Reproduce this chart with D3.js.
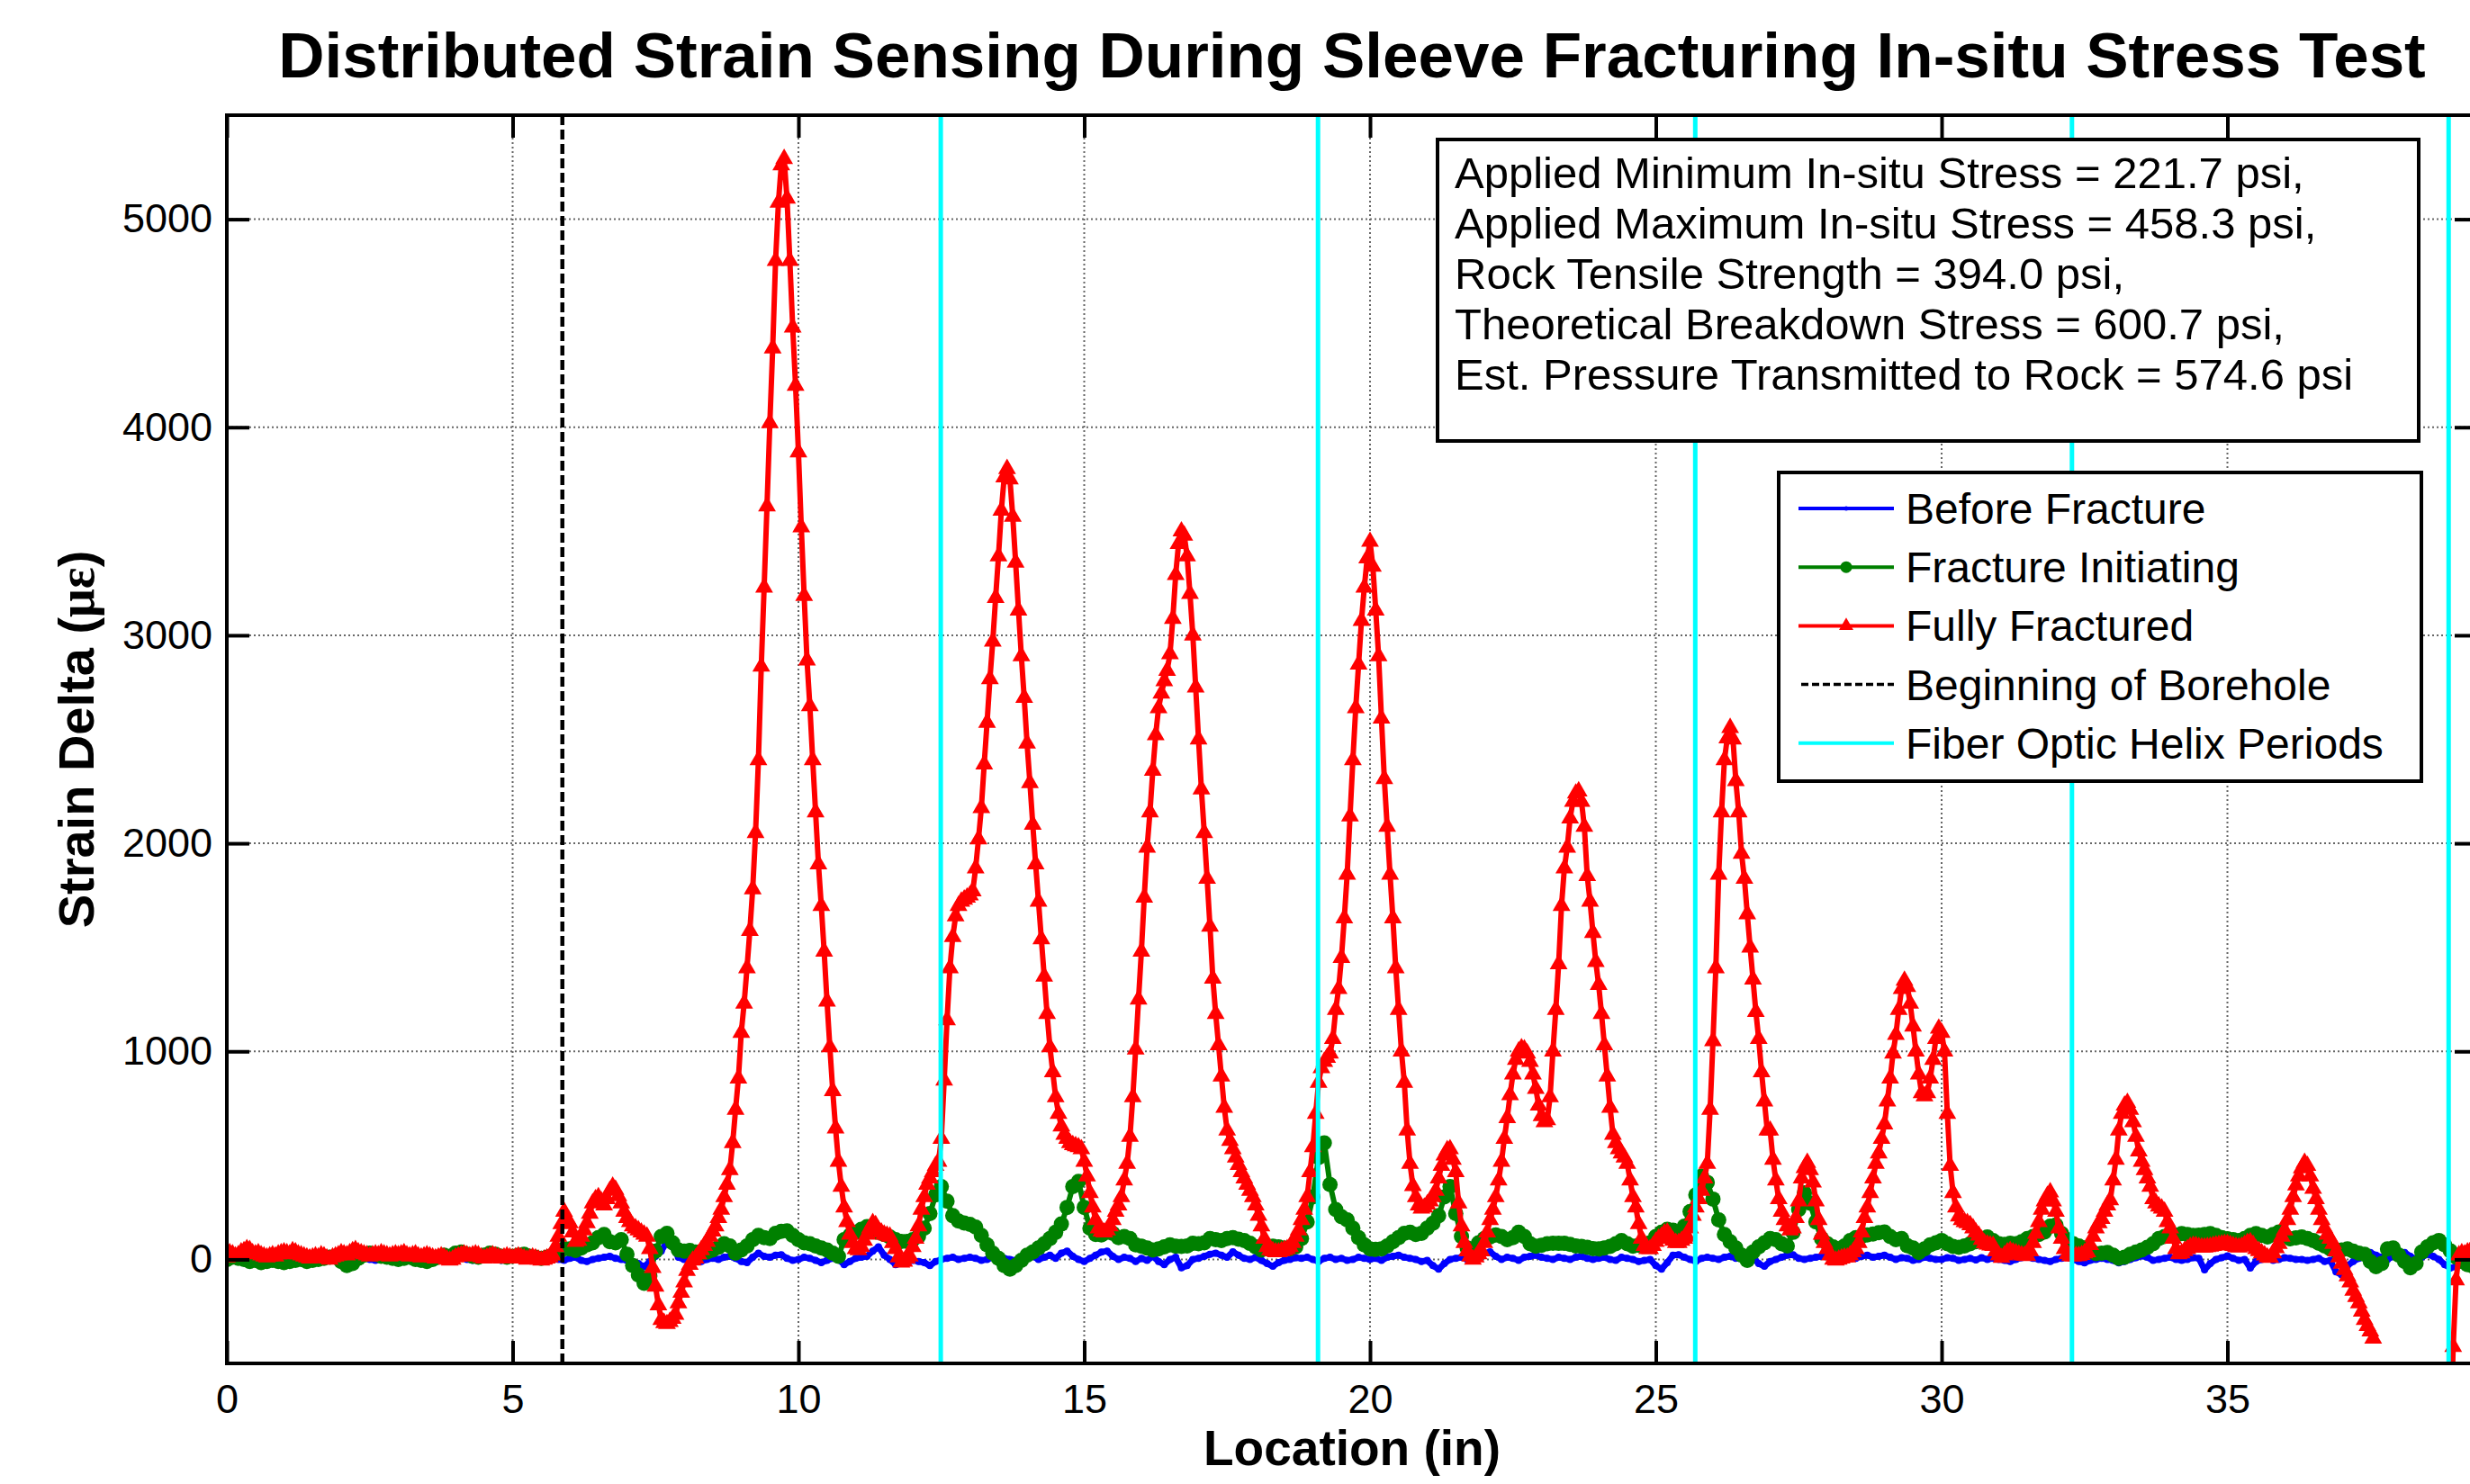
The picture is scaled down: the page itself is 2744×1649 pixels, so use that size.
<!DOCTYPE html>
<html lang="en">
<head>
<meta charset="UTF-8">
<title>Distributed Strain Sensing During Sleeve Fracturing</title>
<style>
  body { margin: 0; background: #fff; }
  svg { display: block; font-family: "Liberation Sans", Arial, Helvetica, sans-serif; }
  .grid line { stroke: #666; stroke-width: 2; stroke-dasharray: 2,3; }
  .axis path { display: none; }
  .axis line { stroke: #000; stroke-width: 4; }
  .axis text { font-size: 45px; fill: #000; }
</style>
</head>
<body>
<svg width="2744" height="1649"></svg>
<script src="https://d3js.org/d3.v7.min.js"></script>
<script>
// ---- data (strain delta, microstrain) ----
const X_STEP_FINE = 0.05;   // red trace spacing along fiber (in)
const X_STEP = 0.1;         // blue / green trace spacing (in)

// Fully Fractured, 0.00 - 9.95 in
const redA = [
  10, 30, 25, 15, 20, 35, 40, 50, 45, 30, 25, 30, 20, 15, 10, 15, 20, 15, 25, 30,
  35, 30, 25, 40, 35, 25, 20, 15, 10, 5, 10, 15, 10, 20, 15, 5, 0, 10, 15, 20,
  30, 25, 20, 30, 40, 45, 35, 30, 25, 20, 15, 20, 25, 20, 30, 25, 20, 15, 20, 25,
  20, 25, 30, 20, 15, 20, 25, 15, 10, 15, 20, 15, 10, 5, 10, 15, 10, 0, -5, 0,
  10, 15, 20, 25, 20, 15, 20, 25, 20, 10, 5, 10, 15, 20, 15, 10, 5, 10, 15, 10,
  5, 10, 15, 10, 5, 0, 5, 10, 5, 0, -5, 0, 5, 10, 20, 60, 110, 170, 230, 195,
  175, 130, 85, 90, 110, 140, 175, 220, 270, 290, 300, 280, 260, 290, 330, 350, 335, 305, 270, 230,
  200, 180, 160, 150, 140, 130, 120, 110, 50, -40, -130, -220, -290, -305, -310, -300, -285, -265, -210, -160,
  -110, -55, -25, -5, 5, 25, 45, 65, 85, 110, 135, 160, 200, 240, 300, 360, 430, 560, 720, 870,
  1090, 1230, 1400, 1580, 1780, 2050, 2400, 2850, 3230, 3620, 4020, 4380, 4800, 5080, 5260, 5290, 5100, 4800, 4480, 4200
];
// 10.00 - 19.95 in
const redB = [
  3880, 3520, 3190, 2880, 2660, 2400, 2150, 1900, 1700, 1480, 1240, 1020, 810, 630, 470, 350, 250, 180, 120, 80,
  50, 45, 60, 90, 120, 150, 175, 165, 140, 130, 120, 115, 110, 80, 50, 10, -15, -10, 5, 15,
  60, 100, 160, 240, 300, 360, 390, 420, 450, 470, 580, 860, 1150, 1400, 1550, 1650, 1700, 1720, 1730, 1740,
  1750, 1770, 1880, 2020, 2170, 2380, 2580, 2790, 2970, 3180, 3380, 3600, 3760, 3800, 3750, 3570, 3350, 3120, 2900, 2700,
  2480, 2290, 2090, 1900, 1720, 1540, 1360, 1180, 1020, 900, 780, 700, 640, 600, 580, 560, 550, 545, 540, 530,
  470, 400, 320, 250, 190, 150, 135, 130, 140, 160, 190, 230, 260, 300, 380, 460, 590, 780, 1010, 1250,
  1480, 1740, 1980, 2150, 2350, 2520, 2650, 2720, 2780, 2830, 2910, 3080, 3290, 3440, 3500, 3480, 3380, 3200, 3000, 2750,
  2500, 2260, 2050, 1830, 1600, 1350, 1180, 1030, 880, 730, 620, 570, 530, 490, 455, 420, 390, 360, 330, 300,
  260, 210, 160, 100, 60, 45, 40, 35, 35, 40, 45, 50, 60, 80, 110, 140, 190, 240, 300, 420,
  540, 700, 850, 920, 950, 970, 990, 1060, 1200, 1300, 1450, 1640, 1850, 2130, 2400, 2650, 2860, 3070, 3230, 3370
];
// 20.00 - 29.95 in
const redC = [
  3450, 3330, 3120, 2900, 2600, 2310, 2080, 1850, 1640, 1400, 1200, 1000, 850, 620, 460, 353, 300, 260, 245, 250,
  265, 280, 300, 330, 390, 450, 500, 525, 530, 480, 420, 270, 160, 80, 40, 15, 0, 10, 25, 40,
  80, 130, 190, 240, 300, 380, 470, 580, 680, 790, 890, 960, 1000, 1015, 1010, 990, 950, 890, 820, 740,
  690, 660, 670, 780, 1000, 1200, 1420, 1700, 1880, 1980, 2120, 2200, 2240, 2250, 2200, 2080, 1843, 1720, 1570, 1430,
  1320, 1180, 1030, 880, 730, 600, 560, 530, 510, 490, 460, 380, 300, 250, 170, 100, 65, 50, 50, 65,
  85, 100, 110, 125, 130, 110, 90, 80, 80, 90, 100, 110, 150, 210, 250, 290, 330, 390, 460, 720,
  1050, 1400, 1850, 2150, 2400, 2505, 2555, 2500, 2300, 2150, 1950, 1830, 1660, 1500, 1346, 1190, 1060, 900, 760, 620,
  620, 480, 380, 290, 230, 190, 160, 140, 150, 200, 280, 390, 440, 465, 430, 370, 280, 190, 120, 80,
  50, 20, 0, -5, 0, 5, 10, 10, 20, 35, 50, 80, 130, 200, 250, 320, 390, 460, 510, 580,
  650, 760, 870, 990, 1080, 1200, 1300, 1340, 1310, 1230, 1120, 1000, 890, 800, 785, 800, 870, 960, 1060, 1110
];
// 30.00 - 39.35 in (null = reading lost below the axis)
const redD = [
  1090, 1000, 700, 450, 320, 250, 207, 190, 180, 175, 165, 150, 130, 115, 95, 78, 72, 68, 66, 40,
  20, 8, 20, 35, 41, 35, 30, 25, 20, 18, 17, 40, 80, 124, 180, 240, 280, 306, 323, 280,
  230, 150, 100, 50, 25, 17, 15, 17, 17, 22, 30, 35, 70, 110, 150, 175, 195, 230, 260, 285,
  380, 480, 620, 700, 740, 753, 720, 660, 590, 520, 470, 430, 390, 350, 290, 270, 255, 245, 230, 180,
  150, 100, 50, 25, 30, 41, 50, 60, 66, 65, 60, 58, 58, 60, 62, 66, 68, 70, 72, 75,
  75, 70, 65, 60, 58, 62, 70, 80, 83, 70, 50, 41, 30, 20, 10, 8, 30, 55, 75, 110,
  140, 190, 240, 300, 356, 400, 439, 465, 450, 400, 340, 290, 240, 190, 150, 120, 100, 75, 40, 10,
  -20, -50, -80, -110, -150, -180, -210, -250, -290, -320, -345, -380, null, null, null, null, null, null, null, null,
  null, null, null, null, null, null, null, null, null, null, null, null, null, null, null, null, null, null, -900, -420,
  -100, 20, 30, 25, 35, 40, 30, 25
];

// Fracture Initiating, 0.0 - 39.3 in
const greenA = [
  0, 10, 5, 0, -10, -5, -15, -10, -5, -10,
  -15, -10, -5, 0, -10, -5, 0, 5, 10, 15,
  -10, -30, -20, 5, 20, 30, 25, 15, 10, 5,
  0, 5, 10, 0, -5, -10, 0, 10, 20, 15,
  30, 35, 25, 15, 10, 20, 30, 25, 15, 10,
  15, 20, 25, 15, 10, 5, 10, 20, 30, 50,
  50, 43, 55, 70, 80, 105, 120, 85, 80, 95,
  25, -30, -75, -115, -80, 40, 110, 125, 80, 45,
  40, 43, 35, 30, 35, 45, 58, 75, 65, 30,
  45, 65, 95, 115, 105, 100, 125, 135, 137, 115
];
const greenB = [
  95, 80, 75, 65, 55, 45, 30, 15, 95, 115,
  130, 145, 158, 145, 130, 120, 108, 95, 86, 86,
  95, 110, 150, 220, 310, 350, 280, 210, 185, 175,
  168, 155, 115, 70, 30, 5, -30, -47, -30, -5,
  20, 35, 55, 75, 100, 130, 170, 250, 350, 375,
  250, 150, 120, 118, 130, 125, 105, 110, 100, 70,
  63, 55, 45, 50, 60, 70, 63, 62, 65, 77,
  75, 80, 100, 95, 90, 100, 105, 97, 90, 77,
  60, 45, 55, 63, 60, 55, 50, 60, 100, 180,
  300, 490, 560, 360, 240, 205, 190, 150, 105, 70
];
const greenC = [
  50, 48, 50, 65, 85, 105, 125, 130, 120, 125,
  150, 174, 210, 300, 350, 220, 110, 55, 50, 80,
  100, 108, 118, 110, 95, 105, 130, 110, 75, 63,
  68, 75, 78, 77, 77, 72, 65, 62, 58, 52,
  50, 55, 62, 75, 90, 75, 63, 68, 75, 80,
  110, 130, 145, 140, 132, 160, 230, 310, 400, 370,
  290, 190, 120, 85, 55, 20, -5, 35, 60, 80,
  100, 95, 75, 65, 130, 240, 320, 270, 180, 100,
  75, 60, 50, 65, 90, 105, 110, 118, 122, 128,
  132, 110, 95, 100, 66, 55, 33, 50, 70, 80
];
const greenD = [
  91, 75, 62, 58, 65, 75, 85, 100, 108, 90,
  75, 72, 78, 75, 85, 100, 110, 120, 132, 160,
  165, 124, 95, 75, 65, 55, 45, 28, 30, 33,
  20, 5, 10, 25, 35, 45, 58, 75, 100, 110,
  115, 118, 124, 120, 115, 116, 120, 124, 115, 105,
  99, 95, 90, 100, 115, 124, 115, 108, 120, 132,
  115, 99, 103, 108, 100, 91, 78, 65, 50, 41,
  45, 50, 40, 30, 25, -10, -35, -20, 50, 55,
  20, -10, -40, -20, 35, 60, 80, 91, 70, 41,
  10, -10, -25, -33
];

// Before Fracture, 0.0 - 39.3 in
const blueA = [
  5, 0, -5, 10, 0, -10, 5, 0, -5, 5,
  0, -10, 5, 10, 0, -5, 0, 5, -5, 0,
  -10, -25, -10, 5, 10, 0, -5, 5, 0, -5,
  0, 5, -5, 0, 10, 0, -5, 5, 0, -5,
  5, 10, 0, -5, 0, 5, 10, 0, -5, 0,
  5, 0, -5, 5, 0, -5, 0, 5, 0, -5,
  5, 10, -5, -10, 0, 5, 10, 15, 5, 0,
  -5, -10, -20, -35, -10, 15, 40, 85, 60, 10,
  0, 5, -5, -10, 0, 5, 0, 10, 15, 5,
  -10, -15, 10, 30, 15, 10, 20, 22, 5, -5
];
const blueB = [
  0, 10, 5, -5, -15, -5, 5, 0, -25, -10,
  5, 10, 15, 40, 60, 20, 0, -25, -20, -10,
  -5, -10, -15, -30, -10, 0, 5, 10, 0, 5,
  10, 5, -5, 0, 10, -5, 5, 0, -5, 10,
  5, 15, 0, 10, 20, 5, 30, 40, 15, 0,
  -10, 5, 20, 35, 40, 15, 0, 10, 5, -10,
  5, -5, 15, -10, -25, 0, 10, -40, -30, 0,
  5, 15, 25, 30, 20, 10, 36, 20, 5, 0,
  10, -5, -20, -33, -15, -5, 0, 8, 5, 10,
  0, -10, 5, 10, 0, 5, -5, 0, 10, 5
];
const blueC = [
  0, 5, -5, 10, 15, 20, 10, 5, 0, -10,
  -5, -30, -47, -20, 0, 5, 10, 0, 5, 15,
  30, 36, 15, 0, 10, 5, -5, 10, 15, 20,
  10, 5, 0, 10, 5, 0, 10, 15, 5, 0,
  5, 10, 0, -5, 10, 5, 0, -10, -5, 0,
  -30, -47, -15, 20, 22, 10, 0, -10, 5, 10,
  5, 0, 10, 15, 5, 20, 15, 10, -20, -33,
  -10, 0, 10, 20, 22, 5, 0, 5, 10, 15,
  20, 25, 15, 30, 10, 5, 15, 20, 10, 15,
  20, 10, 0, 8, 5, -5, 0, 10, 5, 0
];
const blueD = [
  0, 8, 5, -5, 0, 5, -3, 8, 0, 5,
  0, -5, -10, 0, 8, 10, 5, 0, -5, -10,
  0, 5, 10, 0, -10, -17, -5, 0, 5, 0,
  -5, -17, -10, 0, 8, 17, 10, -5, 0, 5,
  10, 0, -5, 0, 8, 5, -50, -20, 0, 8,
  17, 5, -5, 0, -41, -10, 0, 5, -5, 0,
  8, 5, 0, 0, -5, 0, 5, -10, -5, -60,
  -75, -30, -10, 5, 20, 33, 20, 10, 0, 15,
  25, 33, 15, 0, 10, 25, 15, 0, -25, -41,
  -35, -20, -30, -25
];

const boreholeX = 5.87;
const helixX = [12.49, 19.09, 25.69, 32.28, 38.87];

const xTicks = [0, 5, 10, 15, 20, 25, 30, 35];
const yTicks = [0, 1000, 2000, 3000, 4000, 5000];
const xDomain = [0, 39.37];
const yDomain = [-500, 5500];

const infoLines = [
  "Applied Minimum In-situ Stress = 221.7 psi,",
  "Applied Maximum In-situ Stress = 458.3 psi,",
  "Rock Tensile Strength = 394.0 psi,",
  "Theoretical Breakdown Stress = 600.7 psi,",
  "Est. Pressure Transmitted to Rock = 574.6 psi"
];

// ---- layout ----
const L = 252, R = 2752, T = 128, B = 1515;
const svg = d3.select("svg");

const x = d3.scaleLinear().domain(xDomain).range([L, R]);
const y = d3.scaleLinear().domain(yDomain).range([B, T]);

const toPts = (vals, step) => vals.map((v, i) => [+(i * step).toFixed(3), v]);
const red = toPts([].concat(redA, redB, redC, redD), X_STEP_FINE);
const green = toPts([].concat(greenA, greenB, greenC, greenD), X_STEP);
const blue = toPts([].concat(blueA, blueB, blueC, blueD), X_STEP);

svg.append("defs").append("clipPath").attr("id", "plotclip")
  .append("rect").attr("x", L).attr("y", T).attr("width", R - L).attr("height", B - T);

// grid
const grid = svg.append("g").attr("class", "grid");
grid.selectAll(".gx").data(xTicks.filter(d => d > xDomain[0])).enter().append("line")
  .attr("x1", d => x(d)).attr("x2", d => x(d)).attr("y1", T).attr("y2", B);
grid.selectAll(".gy").data(yTicks).enter().append("line")
  .attr("x1", L).attr("x2", R).attr("y1", d => y(d)).attr("y2", d => y(d));

// data traces
const plot = svg.append("g").attr("clip-path", "url(#plotclip)");
const line = d3.line().defined(d => d[1] != null).x(d => x(d[0])).y(d => y(d[1]));

function trace(pts, color, width) {
  plot.append("path").datum(pts)
    .attr("fill", "none").attr("stroke", color).attr("stroke-width", width)
    .attr("stroke-linejoin", "round").attr("stroke-linecap", "round")
    .attr("d", line);
}

trace(blue, "#0000ff", 7);
plot.append("g").selectAll("circle").data(blue).enter().append("circle")
  .attr("cx", d => x(d[0])).attr("cy", d => y(d[1])).attr("r", 4).attr("fill", "#0000ff");

trace(green, "#008000", 6);
plot.append("g").selectAll("circle").data(green).enter().append("circle")
  .attr("cx", d => x(d[0])).attr("cy", d => y(d[1])).attr("r", 8.5).attr("fill", "#008000");

trace(red, "#ff0000", 6);
const tri = d3.symbol().type(d3.symbolTriangle).size(170);
plot.append("g").selectAll("path").data(red.filter(d => d[1] != null)).enter().append("path")
  .attr("d", tri).attr("fill", "#ff0000")
  .attr("transform", d => `translate(${x(d[0])},${y(d[1])})`);

// reference lines
plot.append("line")
  .attr("x1", x(boreholeX)).attr("x2", x(boreholeX)).attr("y1", T).attr("y2", B)
  .attr("stroke", "#000").attr("stroke-width", 4.5).attr("stroke-dasharray", "11,5");
plot.selectAll(".helix").data(helixX).enter().append("line")
  .attr("x1", d => x(d)).attr("x2", d => x(d)).attr("y1", T).attr("y2", B)
  .attr("stroke", "#00ffff").attr("stroke-width", 5);

// axes (ticks inside, box on)
const fmt = d3.format("d");
svg.append("g").attr("class", "axis").attr("transform", `translate(0,${B})`)
  .call(d3.axisBottom(x).tickValues(xTicks).tickFormat(fmt).tickSizeInner(-25).tickSizeOuter(0).tickPadding(23));
svg.append("g").attr("class", "axis").attr("transform", `translate(0,${T})`)
  .call(d3.axisTop(x).tickValues(xTicks).tickSizeInner(-25).tickSizeOuter(0).tickFormat(""));
svg.append("g").attr("class", "axis").attr("transform", `translate(${L},0)`)
  .call(d3.axisLeft(y).tickValues(yTicks).tickFormat(fmt).tickSizeInner(-25).tickSizeOuter(0).tickPadding(16));
svg.append("g").attr("class", "axis").attr("transform", `translate(${R},0)`)
  .call(d3.axisRight(y).tickValues(yTicks).tickSizeInner(-25).tickSizeOuter(0).tickFormat(""));
svg.selectAll(".axis text").attr("font-family", null);

svg.append("rect").attr("x", L).attr("y", T).attr("width", R - L).attr("height", B - T)
  .attr("fill", "none").attr("stroke", "#000").attr("stroke-width", 4);

// titles
svg.append("text").attr("x", (L + R) / 2).attr("y", 86).attr("text-anchor", "middle")
  .attr("font-size", 71).attr("font-weight", "bold")
  .text("Distributed Strain Sensing During Sleeve Fracturing In-situ Stress Test");
svg.append("text").attr("x", (L + R) / 2).attr("y", 1628).attr("text-anchor", "middle")
  .attr("font-size", 55).attr("font-weight", "bold").text("Location (in)");
const yl = svg.append("text").attr("transform", `translate(104,${(T + B) / 2}) rotate(-90)`)
  .attr("text-anchor", "middle").attr("font-size", 56).attr("font-weight", "bold");
yl.append("tspan").text("Strain Delta (");
yl.append("tspan").attr("font-family", "'Liberation Serif', 'DejaVu Serif', serif").text("\u03bc\u03b5");
yl.append("tspan").text(")");

// info box
svg.append("rect").attr("x", 1597).attr("y", 155).attr("width", 1090).attr("height", 335)
  .attr("fill", "#fff").attr("stroke", "#000").attr("stroke-width", 4);
svg.append("g").selectAll("text").data(infoLines).enter().append("text")
  .attr("x", 1616).attr("y", (d, i) => 209 + i * 56).attr("font-size", 49).text(d => d);

// legend
const legendItems = [
  { name: "Before Fracture", color: "#0000ff", width: 4, dash: null, marker: "dot" },
  { name: "Fracture Initiating", color: "#008000", width: 4, dash: null, marker: "circle" },
  { name: "Fully Fractured", color: "#ff0000", width: 4, dash: null, marker: "triangle" },
  { name: "Beginning of Borehole", color: "#000", width: 3.5, dash: "8,4", marker: null },
  { name: "Fiber Optic Helix Periods", color: "#00ffff", width: 4, dash: null, marker: null }
];
svg.append("rect").attr("x", 1976).attr("y", 525).attr("width", 714).attr("height", 343)
  .attr("fill", "#fff").attr("stroke", "#000").attr("stroke-width", 4);
const lg = svg.append("g").selectAll("g").data(legendItems).enter().append("g")
  .attr("transform", (d, i) => `translate(0,${565 + i * 65.2})`);
lg.append("line").attr("x1", d => d.dash ? 2001 : 1998).attr("x2", 2104).attr("y1", 0).attr("y2", 0)
  .attr("stroke", d => d.color).attr("stroke-width", d => d.width)
  .attr("stroke-dasharray", d => d.dash);
lg.filter(d => d.marker === "circle").append("circle").attr("cx", 2051).attr("cy", 0).attr("r", 6.5)
  .attr("fill", d => d.color);
lg.filter(d => d.marker === "dot").append("circle").attr("cx", 2051).attr("cy", 0).attr("r", 2.5)
  .attr("fill", d => d.color);
lg.filter(d => d.marker === "triangle").append("path").attr("d", d3.symbol().type(d3.symbolTriangle).size(110))
  .attr("transform", "translate(2051,0)").attr("fill", d => d.color);
lg.append("text").attr("x", 2117).attr("y", 17).attr("font-size", 48).text(d => d.name);
</script>
</body>
</html>
